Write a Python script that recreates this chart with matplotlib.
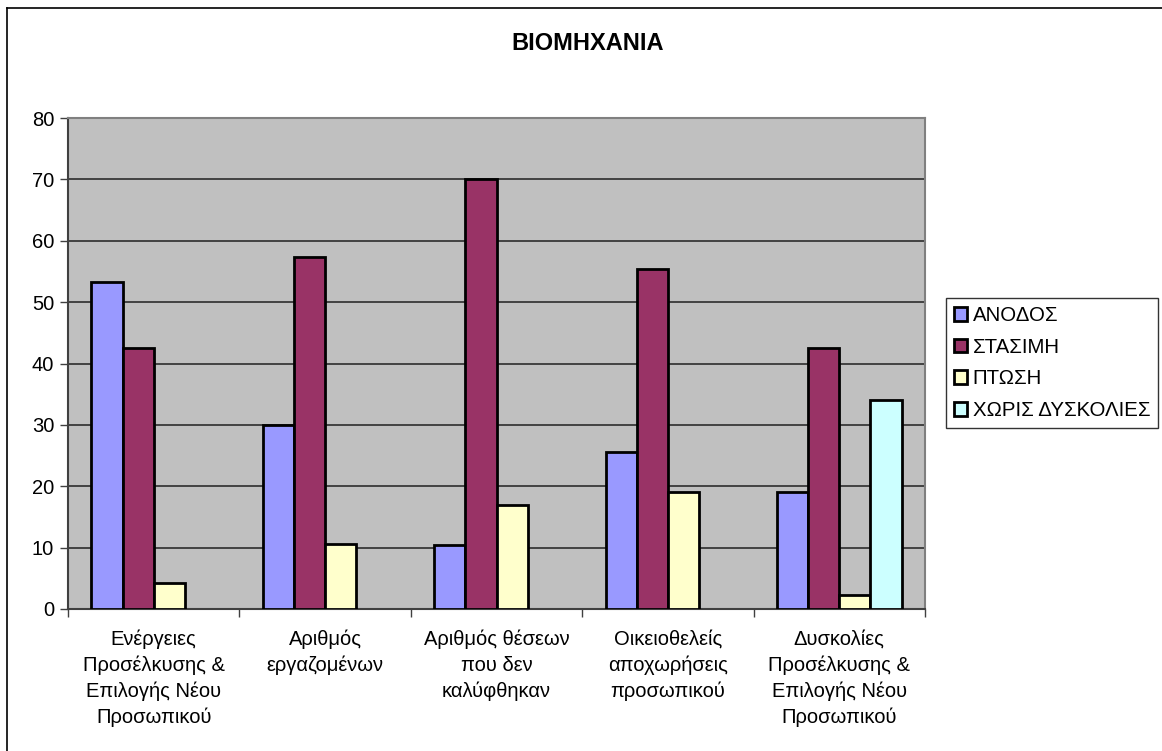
import numpy as np
import matplotlib
matplotlib.use("Agg")
import matplotlib.pyplot as plt
from matplotlib.lines import Line2D

plt.rcParams['font.family'] = ['Liberation Sans', 'DejaVu Sans']

categories = [
    "Ενέργειες\nΠροσέλκυσης &\nΕπιλογής Νέου\nΠροσωπικού",
    "Αριθμός\nεργαζομένων",
    "Αριθμός θέσεων\nπου δεν\nκαλύφθηκαν",
    "Οικειοθελείς\nαποχωρήσεις\nπροσωπικού",
    "Δυσκολίες\nΠροσέλκυσης &\nΕπιλογής Νέου\nΠροσωπικού",
]
series_names = ["ΑΝΟΔΟΣ", "ΣΤΑΣΙΜΗ", "ΠΤΩΣΗ", "ΧΩΡΙΣ ΔΥΣΚΟΛΙΕΣ"]
anodos = [53.2, 29.9, 10.5, 25.5, 19.1]
stasimi = [42.6, 57.4, 70.1, 55.4, 42.6]
ptosi = [4.3, 10.6, 17.0, 19.0, 2.2]
xoris = [np.nan, np.nan, np.nan, np.nan, 34.0]
colors = ["#9999FF", "#993366", "#FFFFCC", "#CCFFFF"]

fig = plt.figure(figsize=(11.62, 7.51), dpi=100)
ax = fig.add_axes([68 / 1162, 1 - 609 / 751, (925 - 68) / 1162, (609 - 118) / 751])
ax.set_facecolor("#C0C0C0")

x = np.arange(len(categories))
w = 1 / 5.5
all_series = [anodos, stasimi, ptosi, xoris]
for i, vals in enumerate(all_series):
    ax.bar(x - 1.5 * w + i * w, vals, width=w, color=colors[i],
           edgecolor="black", linewidth=2, label=series_names[i], zorder=3)

ax.set_xlim(-0.5, len(categories) - 0.5)
ax.set_ylim(0, 80)
ax.set_yticks(range(0, 81, 10))
ax.yaxis.grid(True, color="#202020", linewidth=1.1, zorder=1)
ax.set_axisbelow(True)

# category boundary ticks, labels centered in the categories
ax.set_xticks(np.arange(-0.5, len(categories), 1))
ax.set_xticklabels([])
ax.set_xticks(x, minor=True)
ax.set_xticklabels(categories, minor=True, fontsize=14.5, linespacing=1.42)
ax.tick_params(axis="x", which="minor", length=0, pad=15)
ax.tick_params(axis="x", which="major", length=6, width=1, color="#404040")
ax.tick_params(axis="y", length=6, width=1, color="#404040", labelsize=14.5, pad=4)

for side in ["top", "right"]:
    ax.spines[side].set_color("#808080")
    ax.spines[side].set_linewidth(1.5)
for side in ["left", "bottom"]:
    ax.spines[side].set_color("#404040")
    ax.spines[side].set_linewidth(1.5)

fig.text(588 / 1162, 1 - 44 / 751, "ΒΙΟΜΗΧΑΝΙΑ", ha="center", va="center",
         fontsize=17, fontweight="bold")

leg = fig.legend(loc="center left", bbox_to_anchor=(946 / 1162, 1 - 363 / 751),
                 fontsize=14.7, frameon=True, fancybox=False, handlelength=0.65,
                 handleheight=0.65, handletextpad=0.25, labelspacing=0.62,
                 borderpad=0.4, borderaxespad=0)
leg.get_frame().set_edgecolor("black")
leg.get_frame().set_linewidth(1)

# outer chart frame (left and top edges visible)
fig.add_artist(Line2D([7 / 1162, 7 / 1162], [0, 1 - 8 / 751], color="black", lw=1.2))
fig.add_artist(Line2D([7 / 1162, 1], [1 - 8 / 751, 1 - 8 / 751], color="black", lw=1.2))

fig.savefig("out.png", dpi=100)
